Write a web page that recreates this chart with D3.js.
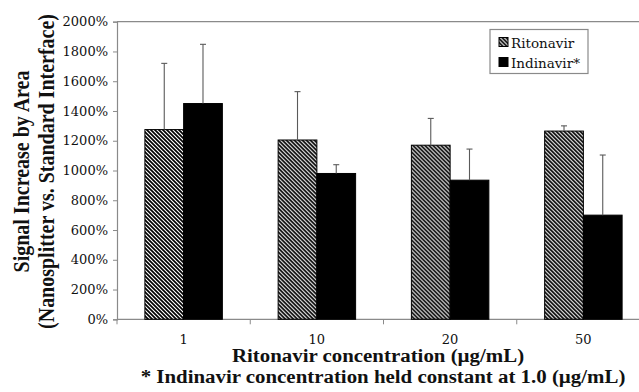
<!DOCTYPE html>
<html>
<head>
<meta charset="utf-8">
<script src="https://cdn.jsdelivr.net/npm/d3@7"></script>
<style>
  body { margin: 0; background: #fff; }
  svg text { font-family: "Liberation Serif", "Times New Roman", serif; fill: #111; }
</style>
</head>
<body>
<svg id="chart"></svg>
<script>
const categories = ["1", "10", "20", "50"]
const seriesNames = ["Ritonavir", "Indinavir*"]
const ritonavir = [1275, 1205, 1170, 1265]
const ritonavirErr = [445, 325, 180, 35]
const indinavir = [1450, 980, 935, 700]
const indinavirErr = [398, 59, 209, 404]
const yTicks = [0, 200, 400, 600, 800, 1000, 1200, 1400, 1600, 1800, 2000]

const rows = categories.map((c, i) => ({
    cat: c,
    bars: [
        { name: seriesNames[0], value: ritonavir[i], err: ritonavirErr[i] },
        { name: seriesNames[1], value: indinavir[i], err: indinavirErr[i] }
    ]
}))

const width = 639, height = 392
const plot = { left: 117, right: 650, top: 21.7, bottom: 319.3 }
const axisColor = "#8a8a8a"
const regFont = "'DejaVu Serif', serif"
const sx = 1.16   // the picture's bold text is stretched sideways

const svg = d3.select("#chart")
    .attr("width", width)
    .attr("height", height)

// hatch pattern for ritonavir bars
svg.append("defs").append("pattern")
    .attr("id", "hatch")
    .attr("patternUnits", "userSpaceOnUse")
    .attr("width", 4)
    .attr("height", 4)
    .append("path")
    .attr("d", "M-1,-1 L5,5 M3,-1 L5,1 M-1,3 L1,5")
    .attr("stroke", "#000")
    .attr("stroke-width", 1.7)

const x0 = d3.scaleBand()
    .domain(categories)
    .range([plot.left, plot.right])

const x1 = d3.scaleBand()
    .domain(seriesNames)
    .range([0, x0.bandwidth()])
    .paddingOuter(0.72)

const y = d3.scaleLinear()
    .domain([0, 2000])
    .range([plot.bottom, plot.top])

const fill = d => d.name === seriesNames[0] ? "url(#hatch)" : "#000"

// bold title text (Liberation Serif bold, stretched)
function title(parent, x, y, txt, size) {
    return parent.append("text")
        .attr("transform", `translate(${x},${y}) scale(${sx},1)`)
        .attr("text-anchor", "middle")
        .style("font-size", size + "px")
        .style("font-weight", "bold")
        .text(txt)
}

// regular text (DejaVu Serif, regular Liberation Serif is not usable here)
function label(parent, x, y, txt, size, anchor) {
    return parent.append("text")
        .attr("x", x)
        .attr("y", y)
        .attr("text-anchor", anchor || "middle")
        .style("font-family", regFont)
        .style("font-size", size + "px")
        .text(txt)
}

// plot area border (top + right, right side runs off the picture)
svg.append("path")
    .attr("d", `M${plot.left},${plot.top} H${plot.right} V${plot.bottom}`)
    .attr("fill", "none")
    .attr("stroke", axisColor)
    .attr("stroke-width", 1.2)

// y axis
const yAxis = svg.append("g")
    .attr("transform", `translate(${plot.left},0)`)
    .call(d3.axisLeft(y).tickValues(yTicks).tickSize(4).tickPadding(5).tickFormat(d => d + "%"))
yAxis.attr("font-family", null)
yAxis.select(".domain").attr("stroke", axisColor).attr("stroke-width", 1.2)
yAxis.selectAll(".tick line").attr("stroke", axisColor)
yAxis.selectAll("text")
    .attr("fill", null)
    .style("font-family", regFont)
    .style("font-size", "13px")

// x axis, ticks between categories
svg.append("line")
    .attr("x1", plot.left).attr("x2", plot.right)
    .attr("y1", plot.bottom).attr("y2", plot.bottom)
    .attr("stroke", axisColor)
    .attr("stroke-width", 1.2)

svg.append("g")
    .selectAll("line")
    .data(categories)
    .join("line")
    .attr("x1", d => x0(d))
    .attr("x2", d => x0(d))
    .attr("y1", plot.bottom)
    .attr("y2", plot.bottom + 5)
    .attr("stroke", axisColor)

const xLabels = svg.append("g")
categories.forEach(c => label(xLabels, x0(c) + x0.bandwidth() / 2, 344, c, 13))

// bars
const groups = svg.append("g")
    .selectAll("g")
    .data(rows)
    .join("g")
    .attr("transform", d => `translate(${x0(d.cat)},0)`)

groups.selectAll("rect")
    .data(d => d.bars)
    .join("rect")
    .attr("x", d => x1(d.name))
    .attr("y", d => y(d.value))
    .attr("width", x1.bandwidth())
    .attr("height", d => y(0) - y(d.value))
    .attr("fill", fill)
    .attr("stroke", "#000")
    .attr("stroke-width", 1)

// error bars, upward only
const errG = groups.selectAll("g.err")
    .data(d => d.bars)
    .join("g")
    .attr("class", "err")
    .attr("stroke", "#5a5a5a")
    .attr("stroke-width", 1.1)

errG.append("line")
    .attr("x1", d => x1(d.name) + x1.bandwidth() / 2)
    .attr("x2", d => x1(d.name) + x1.bandwidth() / 2)
    .attr("y1", d => y(d.value))
    .attr("y2", d => y(d.value + d.err))

errG.append("line")
    .attr("x1", d => x1(d.name) + x1.bandwidth() / 2 - 3)
    .attr("x2", d => x1(d.name) + x1.bandwidth() / 2 + 3)
    .attr("y1", d => y(d.value + d.err))
    .attr("y2", d => y(d.value + d.err))

// legend
const legend = svg.append("g").attr("transform", "translate(490,29.5)")
legend.append("rect")
    .attr("width", 98)
    .attr("height", 44)
    .attr("fill", "#fff")
    .attr("stroke", axisColor)
    .attr("stroke-width", 1.2)

seriesNames.forEach((name, i) => {
    legend.append("rect")
        .attr("x", 9)
        .attr("y", 8 + i * 20)
        .attr("width", 9)
        .attr("height", 9)
        .attr("fill", fill({ name: name }))
        .attr("stroke", "#000")
    label(legend, 21, 18 + i * 20, name, 13.5, "start")
})

// axis titles
const yTitle = svg.append("text")
    .attr("transform", `translate(0,${(plot.top + plot.bottom) / 2 + 1}) scale(${sx},1) rotate(-90)`)
    .attr("text-anchor", "middle")
    .style("font-size", "20px")
    .style("font-weight", "bold")
yTitle.append("tspan").attr("x", 0).attr("y", 25).text("Signal Increase by Area")
yTitle.append("tspan").attr("x", 0).attr("y", 46.5).text("(Nanosplitter vs. Standard Interface)")

title(svg, 378, 362, "Ritonavir concentration (µg/mL)", 18)
title(svg, 383, 383, "* Indinavir concentration held constant at 1.0 (µg/mL)", 18)
</script>
</body>
</html>
